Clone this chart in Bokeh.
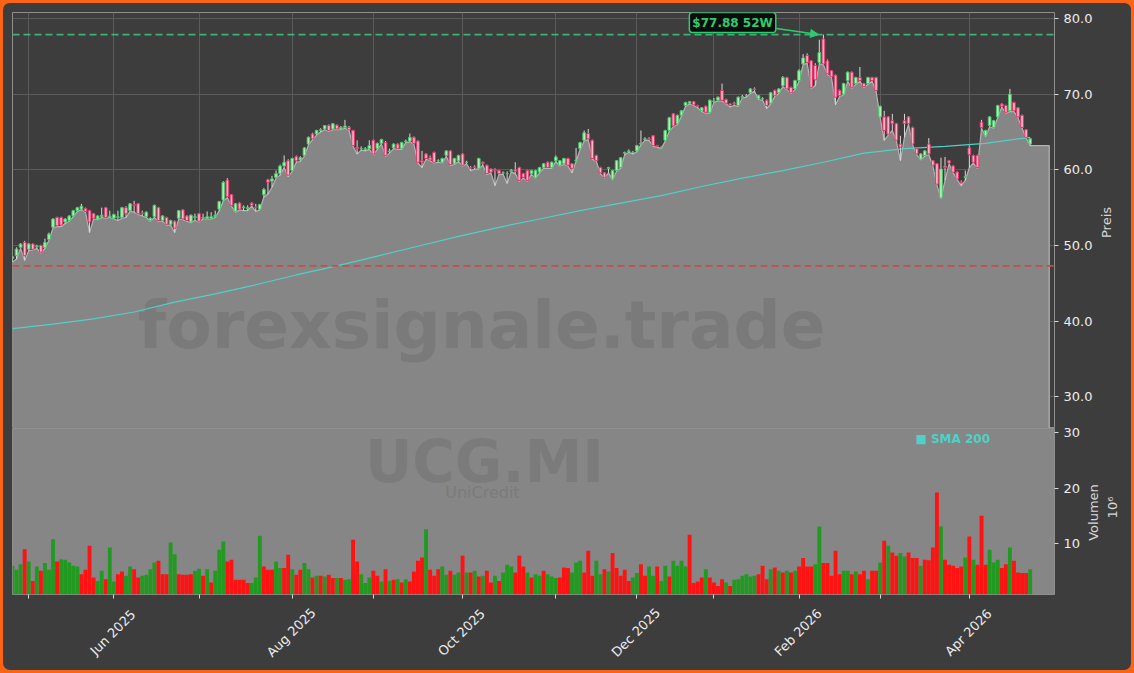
import pandas as pd
from math import pi
from bokeh.plotting import figure
from bokeh.layouts import column, row
from bokeh.models import (FixedTicker, Span, Label, Arrow, NormalHead,
                          PrintfTickFormatter, Range1d, GlobalInlineStyleSheet, ColumnDataSource)
from bokeh.embed import file_html
from bokeh.resources import INLINE
from bokeh.core.properties import value

# ---------------- data ----------------
START, END = "2025-04-25", "2026-04-24"
HOLIDAYS = ["2025-05-01", "2025-08-15", "2025-12-24", "2025-12-25", "2025-12-26",
            "2025-12-31", "2026-01-01", "2026-04-03", "2026-04-06"]

opens = [
    48.3, 48.65, 49.75, 50.41, 49.5, 50.2, 49.8, 50.0, 49.7, 50.8,
    52.4, 53.7, 53.7, 53.1, 53.3, 53.9, 54.6, 54.8, 54.9, 54.6,
    54.2, 53.5, 53.8, 55.0, 53.8, 53.6, 53.7, 53.7, 55.0, 54.6,
    55.4, 55.5, 54.3, 53.8, 53.3, 53.8, 55.0, 53.3, 53.7, 52.8,
    53.2, 53.6, 54.7, 53.9, 53.1, 53.7, 54.2, 53.6, 53.6, 53.6,
    53.8, 54.8, 56.0, 58.66, 56.7, 54.5, 55.6, 55.0, 54.9, 55.6,
    55.1, 54.8, 56.7, 58.7, 58.5, 59.0, 59.5, 60.5, 61.2, 59.9,
    61.75, 61.3, 61.9, 63.4, 64.75, 64.75, 65.2, 65.4, 65.85, 65.4,
    65.9, 65.4, 65.6, 65.6, 65.2, 63.0, 62.8, 62.7, 62.8, 63.9,
    62.8, 63.5, 63.6, 62.4, 62.9, 63.4, 62.8, 63.7, 63.8, 64.3,
    63.8, 61.2, 62.1, 61.6, 62.3, 61.2, 61.0, 61.9, 62.5, 60.8,
    61.2, 62.1, 61.0, 60.3, 60.4, 60.2, 61.0, 60.6, 60.1, 60.0,
    59.9, 59.6, 59.5, 59.8, 60.0, 60.3, 59.5, 59.9, 59.5, 59.0,
    59.7, 60.3, 61.0, 60.3, 61.2, 60.6, 60.8, 61.5, 60.8, 61.2,
    62.8, 63.9, 64.8, 63.9, 61.9, 60.3, 59.6, 60.2, 58.8, 59.9,
    60.3, 62.2, 62.4, 62.3, 62.5, 63.4, 64.0, 64.1, 64.5, 63.2,
    62.9, 63.9, 65.2, 67.4, 66.1, 67.2, 68.5, 68.8, 69.0, 68.5,
    67.8, 68.4, 67.6, 69.0, 69.2, 70.5, 69.3, 68.7, 68.8, 68.5,
    69.6, 69.8, 70.2, 70.7, 69.4, 69.4, 69.2, 68.8, 70.5, 70.2,
    71.1, 72.2, 70.9, 70.7, 71.8, 74.0, 75.1, 74.4, 73.8, 74.2,
    77.3, 74.4, 73.1, 72.5, 70.5, 70.0, 71.8, 72.9, 71.4, 72.2,
    71.4, 71.4, 72.2, 72.2, 67.0, 67.0, 67.0, 66.5, 66.1, 63.4,
    66.5, 67.0, 65.6, 62.8, 61.4, 61.9, 63.4, 61.2, 60.8, 56.3,
    60.5, 61.2, 60.5, 59.7, 58.4, 59.0, 62.9, 61.9, 61.9, 66.3,
    64.5, 65.85, 65.6, 67.0, 68.7, 68.5, 67.8, 68.9, 68.2, 67.2, 65.3, 63.4,
]
highs = [
    48.6, 49.75, 50.3, 50.6, 50.3, 50.3, 50.1, 50.1, 50.9, 51.7,
    53.6, 53.8, 53.8, 53.6, 54.0, 54.7, 55.1, 55.5, 55.0, 54.7,
    54.3, 54.0, 55.0, 55.1, 54.6, 54.2, 54.6, 55.1, 55.2, 55.6,
    55.9, 55.6, 54.6, 54.5, 53.7, 55.4, 55.1, 54.0, 53.8, 53.4,
    53.3, 54.7, 54.8, 54.0, 54.1, 54.2, 54.3, 54.2, 54.5, 54.4,
    54.6, 55.9, 58.5, 58.9, 56.8, 55.6, 55.7, 55.3, 55.3, 55.7,
    55.5, 55.5, 57.6, 58.8, 59.2, 59.9, 60.7, 61.9, 61.4, 61.6,
    61.9, 61.8, 63.0, 64.4, 64.9, 65.3, 65.5, 65.9, 66.0, 66.2,
    66.0, 65.8, 66.6, 65.8, 65.3, 63.9, 63.1, 63.0, 63.9, 64.0,
    63.6, 64.1, 63.8, 62.8, 63.5, 63.5, 63.7, 64.0, 64.8, 64.4,
    63.9, 62.5, 62.2, 61.9, 62.4, 61.4, 61.6, 62.6, 62.6, 61.6,
    62.0, 62.2, 61.2, 60.5, 60.6, 61.6, 61.1, 60.7, 60.2, 60.2,
    60.0, 59.8, 59.8, 60.1, 61.0, 60.4, 59.6, 60.0, 60.0, 60.0,
    60.4, 60.9, 61.1, 61.1, 61.9, 61.3, 61.6, 61.6, 60.9, 62.9,
    63.7, 65.2, 65.4, 64.0, 62.0, 60.4, 59.7, 60.4, 60.0, 61.3,
    61.7, 62.4, 62.7, 62.5, 63.3, 65.2, 64.3, 64.3, 64.6, 63.3,
    63.1, 65.3, 67.0, 67.5, 67.3, 67.9, 69.0, 69.1, 69.1, 68.6,
    68.3, 68.5, 69.3, 69.5, 69.7, 71.4, 69.4, 68.8, 69.0, 69.7,
    69.9, 70.0, 70.8, 70.9, 69.9, 69.6, 69.3, 70.3, 70.6, 70.8,
    72.4, 72.3, 71.0, 71.9, 73.3, 75.3, 75.4, 74.5, 74.1, 77.2,
    77.88, 74.6, 73.2, 72.6, 70.6, 71.5, 73.0, 73.0, 72.3, 73.6,
    71.5, 72.3, 72.3, 72.3, 68.5, 67.8, 67.1, 67.4, 66.2, 64.5,
    67.4, 67.1, 65.7, 62.9, 62.2, 62.6, 64.2, 61.3, 60.9, 61.6,
    61.7, 61.3, 60.6, 59.8, 58.6, 59.9, 63.2, 62.0, 62.0, 66.6,
    65.3, 67.1, 66.6, 68.6, 68.8, 68.6, 70.7, 69.0, 68.3, 67.3, 65.4, 64.2,
]
lows = [
    47.8, 48.2, 49.6, 48.0, 49.3, 49.4, 49.6, 49.0, 49.6, 50.7,
    52.3, 52.5, 52.5, 52.9, 53.2, 53.8, 54.5, 54.7, 54.4, 51.7,
    53.5, 53.4, 53.7, 53.6, 53.7, 53.5, 53.3, 53.6, 53.7, 54.5,
    54.4, 54.1, 53.9, 53.7, 53.2, 53.7, 53.2, 53.2, 52.7, 52.7,
    51.7, 53.5, 53.4, 53.2, 53.0, 53.3, 53.1, 53.5, 53.5, 53.5,
    53.7, 54.6, 55.9, 56.3, 55.2, 54.4, 54.7, 54.6, 54.6, 55.2,
    54.5, 54.7, 56.4, 56.8, 57.7, 58.9, 59.3, 60.3, 59.1, 59.8,
    61.0, 61.1, 61.8, 63.3, 64.0, 64.6, 65.0, 65.3, 65.1, 65.3,
    65.3, 65.3, 65.5, 65.2, 63.1, 62.1, 62.6, 62.5, 62.7, 62.0,
    62.7, 63.4, 61.8, 62.2, 62.8, 62.7, 62.7, 63.6, 63.7, 63.4,
    60.9, 60.3, 61.4, 61.2, 60.9, 61.0, 60.9, 61.8, 60.6, 60.7,
    61.1, 60.5, 60.8, 59.9, 60.1, 60.1, 60.6, 59.4, 59.6, 57.9,
    59.4, 59.4, 58.2, 59.7, 59.5, 58.5, 58.9, 58.5, 59.4, 58.9,
    59.6, 60.2, 60.2, 60.2, 61.1, 60.5, 60.7, 60.5, 59.6, 61.1,
    62.7, 63.8, 64.0, 61.4, 61.1, 59.5, 58.9, 59.6, 58.7, 59.8,
    60.2, 62.0, 62.3, 62.1, 62.4, 63.3, 63.9, 63.9, 63.1, 63.0,
    62.8, 63.8, 65.1, 65.7, 66.0, 67.1, 68.4, 68.7, 68.5, 68.2,
    67.7, 67.5, 67.5, 68.9, 69.1, 69.1, 68.7, 68.3, 68.5, 68.4,
    69.5, 69.6, 70.1, 70.4, 69.3, 69.2, 68.1, 68.7, 69.7, 70.1,
    71.0, 70.6, 70.1, 70.6, 71.7, 73.9, 74.1, 70.8, 71.1, 74.0,
    73.9, 72.6, 72.2, 68.6, 69.7, 69.9, 71.7, 70.8, 71.3, 71.7,
    70.9, 71.3, 71.7, 70.4, 66.9, 63.9, 64.6, 65.2, 63.8, 61.2,
    64.3, 66.0, 63.3, 62.0, 61.3, 61.8, 62.0, 60.5, 58.0, 56.2,
    58.6, 60.8, 59.6, 58.7, 57.9, 58.6, 60.3, 60.9, 60.2, 65.5,
    64.4, 65.7, 65.5, 66.9, 68.3, 67.5, 67.7, 67.7, 66.9, 65.5, 64.2, 63.2,
]
closes = [
    48.5, 49.53, 50.19, 48.65, 50.2, 49.5, 49.9, 49.1, 50.4, 51.5,
    53.5, 52.6, 52.7, 53.5, 53.9, 54.6, 55.0, 55.2, 54.5, 53.1,
    53.6, 53.9, 54.0, 53.7, 53.9, 54.1, 53.8, 55.0, 54.2, 55.5,
    55.3, 54.2, 54.2, 54.4, 53.6, 55.3, 53.3, 53.9, 52.8, 53.3,
    52.3, 54.6, 53.5, 53.3, 54.0, 53.8, 53.2, 53.7, 53.8, 53.8,
    54.0, 55.8, 58.35, 56.45, 55.3, 55.5, 54.8, 55.1, 55.0, 55.3,
    55.0, 55.4, 57.4, 58.35, 58.8, 59.5, 60.5, 61.0, 59.3, 61.5,
    61.2, 61.6, 62.9, 64.3, 64.1, 65.2, 65.3, 65.85, 65.2, 66.1,
    65.4, 65.6, 65.8, 65.3, 63.2, 62.8, 62.8, 62.8, 63.2, 62.1,
    63.5, 64.0, 61.9, 62.5, 63.4, 62.8, 63.6, 63.8, 64.3, 63.5,
    61.0, 61.0, 61.5, 61.3, 61.0, 61.2, 61.5, 62.5, 60.7, 61.5,
    61.9, 60.6, 61.0, 60.2, 60.3, 61.5, 60.8, 59.5, 59.7, 59.9,
    59.5, 59.6, 59.5, 59.9, 59.8, 58.6, 59.0, 58.6, 59.9, 59.9,
    60.3, 60.8, 60.3, 61.0, 61.7, 61.2, 61.5, 60.6, 60.2, 61.3,
    63.6, 64.9, 64.1, 61.5, 61.2, 59.6, 59.0, 60.3, 59.9, 61.2,
    61.6, 62.3, 62.5, 62.3, 63.2, 63.5, 64.1, 64.0, 63.2, 63.1,
    62.9, 65.2, 66.9, 65.8, 67.2, 67.8, 68.9, 69.0, 68.6, 68.4,
    68.2, 67.6, 69.2, 69.1, 69.6, 69.2, 68.8, 68.5, 68.7, 69.6,
    69.7, 69.8, 70.7, 70.6, 69.8, 69.4, 68.5, 70.2, 69.8, 70.7,
    72.2, 70.7, 70.2, 71.8, 73.1, 74.8, 74.2, 70.9, 71.9, 75.5,
    74.0, 72.7, 72.3, 69.6, 69.8, 71.4, 72.9, 70.9, 72.2, 71.8,
    71.0, 72.2, 71.8, 70.5, 68.4, 65.2, 64.7, 66.1, 63.9, 63.0,
    66.1, 66.1, 63.4, 62.1, 62.1, 62.5, 62.1, 60.6, 58.1, 60.1,
    60.3, 60.9, 59.7, 58.8, 58.3, 59.1, 62.0, 61.0, 60.3, 65.6,
    65.2, 67.0, 66.5, 68.5, 68.4, 67.6, 70.0, 67.8, 67.0, 65.6, 64.3, 64.1,
]
volumes_m = [
    6.0, 5.3, 6.3, 9.0, 6.8, 3.3, 5.9, 5.1, 6.5, 5.3,
    10.8, 6.8, 7.2, 7.1, 6.6, 6.0, 5.9, 4.5, 5.3, 9.6,
    3.9, 3.3, 5.1, 3.6, 9.3, 3.2, 4.5, 5.0, 4.2, 5.9,
    5.4, 3.9, 4.2, 4.4, 5.4, 6.6, 6.9, 4.5, 4.5, 10.2,
    8.1, 4.5, 4.4, 4.4, 4.5, 5.1, 5.5, 4.2, 5.4, 3.0,
    5.1, 8.9, 10.4, 6.8, 7.1, 3.5, 3.5, 3.5, 2.9, 2.9,
    3.9, 11.4, 5.9, 5.3, 5.3, 6.8, 5.6, 5.6, 8.0, 5.4,
    4.4, 5.3, 6.5, 5.4, 3.9, 4.2, 4.2, 4.1, 4.4, 3.8,
    3.8, 3.8, 3.5, 3.6, 10.7, 6.8, 4.5, 2.9, 3.9, 5.1,
    4.2, 3.2, 5.4, 3.3, 3.5, 3.6, 3.0, 3.6, 3.2, 5.0,
    6.9, 7.5, 12.6, 5.3, 4.2, 5.4, 5.9, 4.4, 5.1, 4.4,
    4.8, 7.8, 4.8, 4.8, 5.1, 4.1, 4.2, 5.1, 3.0, 4.2,
    3.3, 4.8, 6.2, 5.9, 4.8, 7.8, 5.9, 4.8, 3.9, 4.5,
    4.2, 5.1, 4.5, 4.1, 3.8, 3.9, 5.7, 5.6, 4.8, 6.6,
    6.9, 4.8, 8.7, 4.2, 6.9, 4.5, 5.4, 5.0, 8.3, 5.6,
    4.2, 5.3, 3.3, 3.9, 4.7, 6.3, 4.2, 5.9, 4.2, 5.9,
    3.3, 6.0, 4.1, 6.9, 6.0, 6.9, 5.9, 11.6, 2.9, 3.2,
    3.9, 5.4, 3.9, 3.0, 2.4, 3.6, 3.0, 2.4, 3.5, 3.6,
    4.2, 4.5, 4.1, 4.2, 4.5, 6.0, 3.6, 5.4, 5.7, 5.1,
    4.8, 5.1, 4.8, 5.1, 5.9, 7.4, 5.9, 5.9, 6.3, 13.1,
    6.5, 6.5, 4.2, 8.7, 4.5, 5.1, 5.1, 4.5, 5.0, 4.5,
    5.1, 3.6, 5.1, 5.1, 6.6, 10.5, 9.6, 8.4, 7.8, 8.3,
    7.7, 8.4, 7.4, 7.4, 6.0, 7.1, 7.0, 9.3, 19.2, 13.1,
    7.1, 6.2, 6.0, 5.6, 5.9, 7.5, 11.3, 7.1, 6.2, 15.0,
    6.2, 8.9, 6.6, 7.1, 5.6, 6.3, 9.3, 6.9, 4.8, 4.7, 4.7, 5.4,
]
# g = volume bar shown green, r = shown red
volume_side = list(
    "gggrgrgrgg" "grgggggrrr" "rggrggrrgg" "rrggggrrrg" "grrrrggrgr"
    "gggrrrrrrg" "ggrrrggrrg" "rrggrgrgrr" "grggrrgggr" "rgrgrgrgrr"
    "rrgrrrggrg" "grgrgrgrrg" "rgggrrrgrg" "grgggrrrgg" "grrrggrgrr"
    "rrrggrrggr" "ggrggggrrr" "rgrrrrgrgg" "ggggrrrgrg" "rgrgrrrrgg"
    "rrrrrggrgr" "rgrrgrgrrg" "grrrgrrrrg" "rrrrrgrgrr" "rgggrrgrrrrg"
)
sma_idx = [0, 10, 20, 30, 40, 50, 60, 70, 80, 90, 100, 110, 120, 130,
           140, 150, 160, 170, 180, 190, 200, 210, 220, 230, 240, 251]
sma_val = [39.0, 39.6, 40.3, 41.2, 42.5, 43.6, 44.8, 46.1, 47.3, 48.6, 49.9, 51.2, 52.4, 53.5,
           54.6, 55.6, 56.6, 57.8, 58.9, 59.9, 61.0, 62.2, 62.8, 63.1, 63.5, 64.3]
HIGH_52W = 77.88
LOW_LINE = 47.3
WATERMARK = "forexsignale.trade"
TICKER = "UCG.MI"
COMPANY = "UniCredit"
LABELED_MONTHS = [6, 8, 10, 12, 2, 4]

# ---------------- derived ----------------
dates = [d for d in pd.bdate_range(START, END) if d.strftime("%Y-%m-%d") not in HOLIDAYS]
n = min(len(dates), len(opens), len(highs), len(lows), len(closes), len(volumes_m),
        len(volume_side))
idx = list(range(n))
opens, highs, lows, closes = opens[:n], highs[:n], lows[:n], closes[:n]
volumes_m, volume_side, dates = volumes_m[:n], volume_side[:n], dates[:n]
up = [closes[i] >= opens[i] for i in idx]

month_ticks = [i for i in range(1, n) if dates[i].month != dates[i - 1].month]

# ---------------- style / geometry ----------------
FONT_NAME = "DejaVu Sans"
FONT = value(FONT_NAME)
BG = "#3d3d3d"
AREA = "#868686"
AREA_LINE = "#b4b4b4"
GRID = "#5b5b5b"
OUTLINE = "#8f8f8f"
TXT = "#ececec"
TITLE_COL = "#d8d8d8"
UP_FILL, UP_LINE = "#b3efb3", "#49c46c"
DN_FILL, DN_LINE = "#f6b6c6", "#e6356a"
WICK = "#dadada"
VOL_UP, VOL_DN = "#229a22", "#ff1212"
GREEN = "#2ecc71"
SMA_COL = "#4fd1c5"

W_TOTAL, H_TOTAL = 1128, 667          # inside the 3px page border
LEFT, TOP = 9, 9                      # frame offset inside the layout
FW, FH_P, FH_V = 1042, 416, 166
Y_LO, Y_HI = 25.8, 80.8
V_LO, V_HI = 0.85, 30.7
X_HI = 257
PX_X = FW / X_HI
x_range = Range1d(0, X_HI)

css = GlobalInlineStyleSheet(css="""
html { background: #fb6414; height: 100%; }
body { margin: 3px !important; background: #3d3d3d; height: calc(100% - 6px);
       border-radius: 7px; overflow: hidden; }
""")

# ---------------- price panel ----------------
p = figure(x_range=x_range, y_range=Range1d(Y_LO, Y_HI),
           frame_width=FW, frame_height=FH_P,
           min_border_left=LEFT, min_border_right=W_TOTAL - LEFT - FW,
           min_border_top=TOP, min_border_bottom=0,
           x_axis_location=None, y_axis_location="right",
           output_backend="svg", toolbar_location=None,
           background_fill_color=BG, border_fill_color=BG,
           outline_line_color=OUTLINE, outline_line_width=1)

p.xgrid.ticker = FixedTicker(ticks=month_ticks)
p.ygrid.ticker = FixedTicker(ticks=[30, 40, 50, 60, 70, 80])
p.grid.grid_line_color = GRID
p.grid.grid_line_width = 1

ax = p.yaxis[0]
ax.ticker = FixedTicker(ticks=[30, 40, 50, 60, 70, 80])
ax.formatter = PrintfTickFormatter(format="%.1f")

# area (lows), extended to the right edge as in the original
ext = n - 1 + 4.7
area_x = idx + [ext]
area_y = lows + [lows[-1]]
p.varea(x=area_x, y1=[Y_LO - 1] * len(area_x), y2=area_y, fill_color=AREA)
p.line(x=area_x + [ext], y=area_y + [Y_LO - 1], line_color=AREA_LINE, line_width=1.2)

# watermark
p.text(x=[115.7], y=[39.39], text=[WATERMARK], text_font=FONT, text_font_style="bold",
       text_font_size="66px", text_color="#7a7a7a", text_align="center",
       text_baseline="alphabetic")

# SMA 200
p.line(x=sma_idx, y=sma_val, line_color=SMA_COL, line_width=1.2)

# candles
src_up = ColumnDataSource(dict(
    x=[i for i in idx if up[i]],
    top=[closes[i] for i in idx if up[i]], bottom=[opens[i] for i in idx if up[i]],
    hi=[highs[i] for i in idx if up[i]], lo=[lows[i] for i in idx if up[i]]))
src_dn = ColumnDataSource(dict(
    x=[i for i in idx if not up[i]],
    top=[opens[i] for i in idx if not up[i]], bottom=[closes[i] for i in idx if not up[i]],
    hi=[highs[i] for i in idx if not up[i]], lo=[lows[i] for i in idx if not up[i]]))
for src, fc, lc in ((src_up, UP_FILL, UP_LINE), (src_dn, DN_FILL, DN_LINE)):
    p.segment(x0="x", y0="lo", x1="x", y1="hi", source=src, line_color=WICK, line_width=1)
    p.vbar(x="x", width=0.66, top="top", bottom="bottom", source=src,
           fill_color=fc, line_color=lc, line_width=1)

# reference lines
p.add_layout(Span(location=HIGH_52W, dimension="width", line_color="#3cb371",
                  line_width=1.6, line_dash="7 4"))
p.add_layout(Span(location=LOW_LINE, dimension="width", line_color="#cd4a4a",
                  line_width=1.6, line_dash="7 4"))

peak_i = max(idx, key=lambda i: highs[i])
p.add_layout(Label(x=peak_i - 22.4, y=79.47, text=f"${HIGH_52W:.2f} 52W",
                   text_align="center", text_baseline="middle",
                   text_font=FONT_NAME, text_font_style="bold", text_font_size="12px",
                   text_color=GREEN, background_fill_color="#0c0c0c",
                   border_line_color=GREEN, border_line_width=1.5,
                   padding=3, border_radius=3))
p.add_layout(Arrow(x_start=peak_i - 11.6, y_start=78.68, x_end=peak_i - 1.2, y_end=HIGH_52W,
                   line_color=GREEN, line_width=1.5,
                   end=NormalHead(size=8, fill_color=GREEN, line_color=GREEN)))

# ---------------- volume panel ----------------
OVERLAP = 10
v = figure(x_range=x_range, y_range=Range1d(V_LO, V_HI),
           frame_width=FW, frame_height=FH_V,
           min_border_left=LEFT, min_border_right=W_TOTAL - LEFT - FW,
           min_border_top=OVERLAP, min_border_bottom=70,
           y_axis_location="right", margin=(-OVERLAP, 0, 0, 0),
           output_backend="svg", toolbar_location=None,
           background_fill_color=AREA, border_fill_color=None,
           outline_line_color=OUTLINE, outline_line_width=1)
v.grid.visible = False

v.text(x=[116.4], y=[24.6], text=[TICKER], text_font=FONT, text_font_style="bold",
       text_font_size="58px", text_color="#7b7b7b", text_align="center",
       text_baseline="alphabetic")
v.text(x=[115.9], y=[19.15], text=[COMPANY], text_font=FONT,
       text_font_size="16px", text_color="#7b7b7b", text_align="center",
       text_baseline="alphabetic")

v.vbar(x=idx, width=0.96, top=volumes_m, bottom=0,
       fill_color=[VOL_UP if s == "g" else VOL_DN for s in volume_side], line_color=None)

v.add_layout(Label(x=222.7, y=28.85, text="\u25a0 SMA 200", text_baseline="middle",
                   text_font=FONT_NAME, text_font_style="bold", text_font_size="12px",
                   text_color=SMA_COL))

vy = v.yaxis[0]
vy.ticker = FixedTicker(ticks=[10, 20, 30])

vx = v.xaxis[0]
vx.ticker = FixedTicker(ticks=month_ticks)
vx.major_label_overrides = {t: "" for t in month_ticks}

for a in (ax, vy, vx):
    a.axis_line_color = None
    a.major_tick_line_color = "#d8d8d8"
    a.major_tick_out = 4
    a.major_tick_in = 0
    a.minor_tick_line_color = None
    a.major_label_text_font = FONT_NAME
    a.major_label_text_font_size = "13px"
    a.major_label_text_color = TXT

# ---------------- transparent overlay for axis titles and date labels ----------------
ov = figure(width=W_TOTAL, height=H_TOTAL, x_range=Range1d(0, W_TOTAL),
            y_range=Range1d(0, H_TOTAL), min_border=0,
            x_axis_location=None, y_axis_location=None,
            output_backend="svg", toolbar_location=None,
            background_fill_color=None, border_fill_color=None, outline_line_color=None,
            margin=(0, 0, 0, -W_TOTAL))
ov.grid.visible = False

def oy(y_from_top):
    return H_TOTAL - y_from_top

PRICE_FRAME_RIGHT = LEFT + FW
VOL_FRAME_BOTTOM = TOP + FH_P + FH_V

# y-axis titles (read bottom-to-top)
ov.text(x=[PRICE_FRAME_RIGHT + 52], y=[oy(TOP + 210)], text=["Preis"], angle=pi / 2,
        text_font=FONT, text_font_size="13px", text_color=TITLE_COL,
        text_align="center", text_baseline="middle")
ov.text(x=[PRICE_FRAME_RIGHT + 39, PRICE_FRAME_RIGHT + 58],
        y=[oy(TOP + FH_P + 84), oy(TOP + FH_P + 79)],
        text=["Volumen", "10\u2076"], angle=pi / 2,
        text_font=FONT, text_font_size="13px", text_color=TITLE_COL,
        text_align="center", text_baseline="middle")

# month labels, centred on their ticks, rotated 45 degrees
lab_ticks = [t for t in month_ticks if dates[t].month in LABELED_MONTHS]
ov.text(x=[LEFT + t * PX_X - 1 for t in lab_ticks],
        y=[oy(VOL_FRAME_BOTTOM + 38)] * len(lab_ticks),
        text=[dates[t].strftime("%b %Y") for t in lab_ticks], angle=pi / 4,
        text_font=FONT, text_font_size="13px", text_color=TXT,
        text_align="center", text_baseline="middle")

layout = row(column(p, v, spacing=0), ov, spacing=0, stylesheets=[css])
open("out.html", "w").write(file_html(layout, INLINE, title="UCG.MI"))
